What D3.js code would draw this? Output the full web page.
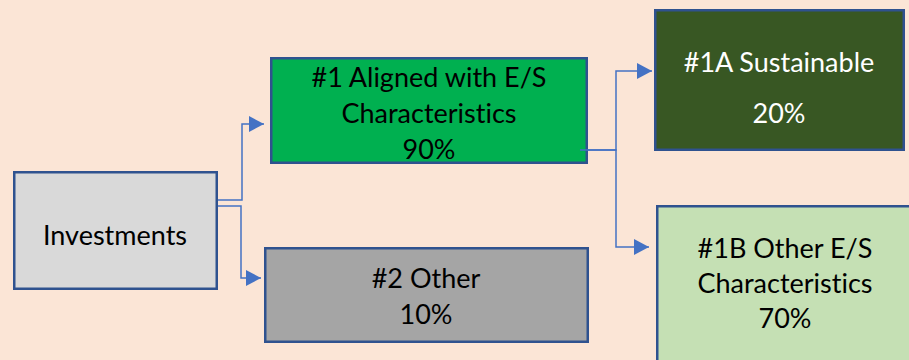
<!DOCTYPE html>
<html>
<head>
<meta charset="utf-8">
<script src="https://cdn.jsdelivr.net/npm/d3@7"></script>
<style>
  html, body { margin: 0; padding: 0; background: #FBE5D6; }
  svg { display: block; }
  .box-label { font-family: Lato, "Open Sans", sans-serif; font-size: 27px; text-anchor: middle; font-variant-ligatures: none; }
</style>
</head>
<body>
<div id="chart"></div>
<script>
// data
var box_ids = ["inv", "aligned", "other", "sust", "other_es"];
var box_lines = [
    ["Investments"],
    ["#1 Aligned with E/S", "Characteristics"],
    ["#2 Other"],
    ["#1A Sustainable"],
    ["#1B Other E/S", "Characteristics"]
];
var box_shares = [null, 90, 10, 20, 70];
var links = [["inv", "aligned"], ["inv", "other"], ["aligned", "sust"], ["aligned", "other_es"]];

// layout (outer edges of each box, first text baseline, line gaps)
var layout = {
    inv:      {x0: 13,  x1: 218, y0: 171, y1: 290, fill: "#D9D9D9", color: "#000", tx: 115, ty: 245, gap: 36},
    aligned:  {x0: 270, x1: 588, y0: 57,  y1: 164, fill: "#00B050", color: "#000", tx: 429, ty: 87,  gap: 36},
    other:    {x0: 264, x1: 589, y0: 247, y1: 343, fill: "#A5A5A5", color: "#000", tx: 426, ty: 288, gap: 36},
    sust:     {x0: 654, x1: 905, y0: 9,   y1: 151, fill: "#385723", color: "#fff", tx: 779, ty: 72,  gap: 51},
    other_es: {x0: 656, x1: 916, y0: 205, y1: 372, fill: "#C5E0B4", color: "#000", tx: 785, ty: 258, gap: 35}
};
var link_layout = {
    "inv-aligned":     {sy: 200, ex: 242, gap: 6},
    "inv-other":       {sy: 206, ex: 241, gap: 3},
    "aligned-sust":    {sy: 150, ex: 616, gap: 2, sx: 580},
    "aligned-other_es":{sy: 150, ex: 616, gap: 7, sx: 580}
};
var target_y = {"inv-aligned": 124, "inv-other": 278, "aligned-sust": 71, "aligned-other_es": 247};

var width = 909, height = 360;
var border = 2.5;

var svg = d3.select("#chart").append("svg")
    .attr("width", width)
    .attr("height", height);

svg.append("rect")
    .attr("width", width)
    .attr("height", height)
    .attr("fill", "#FBE5D6");

svg.append("defs").append("marker")
    .attr("id", "arrowhead")
    .attr("viewBox", "0 0 15 16")
    .attr("refX", 15)
    .attr("refY", 8)
    .attr("markerUnits", "userSpaceOnUse")
    .attr("markerWidth", 15)
    .attr("markerHeight", 16)
    .attr("orient", "auto")
    .append("path")
    .attr("d", "M 0 0 L 15 8 L 0 16 z")
    .attr("fill", "#4472C4");

var boxes = box_ids.map(function(id, i) {
    return {id: id, lines: box_lines[i], share: box_shares[i], l: layout[id]};
});

var line = d3.line().curve(d3.curveLinear);

svg.append("g")
    .selectAll("path")
    .data(links)
    .enter().append("path")
    .attr("d", function(d) {
        var key = d[0] + "-" + d[1];
        var ll = link_layout[key];
        var src = layout[d[0]], tgt = layout[d[1]];
        var sx = ll.sx !== undefined ? ll.sx : src.x1 - 1;
        var ty = target_y[key];
        return line([[sx, ll.sy], [ll.ex, ll.sy], [ll.ex, ty], [tgt.x0 - ll.gap, ty]]);
    })
    .attr("fill", "none")
    .attr("stroke", "#4472C4")
    .attr("stroke-width", 1.5)
    .attr("marker-end", "url(#arrowhead)");

var node = svg.append("g")
    .selectAll("g")
    .data(boxes)
    .enter().append("g");

node.append("rect")
    .attr("x", function(d) { return d.l.x0 + border / 2; })
    .attr("y", function(d) { return d.l.y0 + border / 2; })
    .attr("width", function(d) { return d.l.x1 - d.l.x0 - border; })
    .attr("height", function(d) { return d.l.y1 - d.l.y0 - border; })
    .attr("fill", function(d) { return d.l.fill; })
    .attr("stroke", "#2F528F")
    .attr("stroke-width", border);

// the green box connector starts inside the box, so draw that stub on top
svg.append("g")
    .selectAll("path")
    .data(links.filter(function(d) { return d[0] === "aligned"; }).slice(0, 1))
    .enter().append("path")
    .attr("d", function(d) {
        var ll = link_layout[d[0] + "-" + d[1]];
        return line([[ll.sx, ll.sy], [layout[d[0]].x1, ll.sy]]);
    })
    .attr("stroke", "#4472C4")
    .attr("stroke-width", 1.5);

node.each(function(d) {
    var texts = d.lines.slice();
    if (d.share !== null) texts.push(d.share + "%");
    d3.select(this).selectAll("text")
        .data(texts)
        .enter().append("text")
        .attr("class", "box-label")
        .attr("x", d.l.tx)
        .attr("y", function(t, i) { return d.l.ty + i * d.l.gap; })
        .attr("fill", d.l.color)
        .text(function(t) { return t; });
});
</script>
</body>
</html>
